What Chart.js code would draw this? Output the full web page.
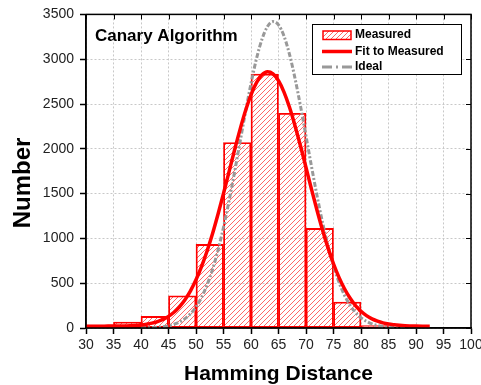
<!DOCTYPE html>
<html>
<head>
<meta charset="utf-8">
<script src="https://cdn.jsdelivr.net/npm/chart.js@4/dist/chart.umd.min.js"></script>
<style>
html,body{margin:0;padding:0;background:#fff;}
canvas{display:block;}
</style>
</head>
<body>
<canvas id="c" width="481" height="385"></canvas>
<script>
// ---- data ----
const binStarts = [30, 35, 40, 45, 50, 55, 60, 65, 70, 75, 80];
const binWidth = 5;
const measuredCounts = [33, 67, 130, 360, 933, 2070, 2835, 2396, 1112, 290, 28];

const fitX = [30,32,34,36,38,40,41,42,43,44,45,46,47,48,49,50,51,52,53,54,55,56,57,58,59,60,61,62,63,64,65,66,67,68,69,70,71,72,73,74,75,76,77,78,79,80,81,82,83,84,85,86,87,88,90,92,92.5];
const fitY = [20,20,21,22,25,34,42,54,72,96,130,176,237,316,415,538,685,857,1052,1270,1501,1742,1984,2214,2424,2602,2738,2826,2860,2837,2760,2633,2463,2258,2031,1791,1549,1314,1094,894,717,565,438,335,251,187,138,102,76,57,44,36,30,26,22,20,20];

const idealX = [40,42,44,45,46,47,48,49,50,51,52,53,54,55,56,57,58,59,60,61,62,63,64,65,66,67,68,69,70,71,72,73,74,75,76,77,78,79,80,82,84,86,88];
const idealY = [1,5,15,25,42,67,105,159,236,341,478,653,868,1124,1416,1737,2074,2411,2728,3006,3223,3365,3420,3383,3258,3054,2787,2477,2142,1803,1478,1180,916,693,510,365,255,173,114,46,17,5,2];

const xTickValues = [30,35,40,45,50,55,60,65,70,75,80,85,90,95,100];
const yTickValues = [0,500,1000,1500,2000,2500,3000,3500];

const seriesNames = ['Measured', 'Fit to Measured', 'Ideal'];
const chartTitle = 'Canary Algorithm';
const xAxisTitle = 'Hamming Distance';
const yAxisTitle = 'Number';

// ---- styles ----
const FONT = '"Liberation Sans", Arial, Helvetica, sans-serif';
const RED = '#ff0000';
const GREY = '#999999';

function makeHatch() {
  const s = 5;
  const c = document.createElement('canvas');
  c.width = s; c.height = s;
  const g = c.getContext('2d');
  g.strokeStyle = RED;
  g.lineWidth = 0.6;
  g.beginPath();
  g.moveTo(0, s); g.lineTo(s, 0);
  g.moveTo(-1, 1); g.lineTo(1, -1);
  g.moveTo(s - 1, s + 1); g.lineTo(s + 1, s - 1);
  g.stroke();
  return document.getElementById('c').getContext('2d').createPattern(c, 'repeat');
}
const hatch = makeHatch();

const decorPlugin = {
  id: 'decor',
  afterDraw(chart) {
    const {ctx, chartArea: a, scales: {x, y}} = chart;
    ctx.save();
    // frame
    ctx.strokeStyle = '#000';
    ctx.lineWidth = 1.5;
    ctx.strokeRect(a.left, a.top, a.right - a.left, a.bottom - a.top);
    // inner ticks on top and right
    ctx.lineWidth = 1;
    ctx.beginPath();
    xTickValues.forEach(v => {
      const px = Math.round(x.getPixelForValue(v)) + 0.5;
      ctx.moveTo(px, a.top); ctx.lineTo(px, a.top + 5);
    });
    yTickValues.forEach(v => {
      const py = Math.round(y.getPixelForValue(v)) + 0.5;
      ctx.moveTo(a.right, py); ctx.lineTo(a.right - 5, py);
    });
    ctx.stroke();

    // in-plot title
    ctx.fillStyle = '#000';
    ctx.font = 'bold 17px ' + FONT;
    ctx.textAlign = 'left';
    ctx.textBaseline = 'alphabetic';
    ctx.fillText(chartTitle, 95, 41);

    // y axis title
    ctx.save();
    ctx.translate(23.4, 183);
    ctx.rotate(-Math.PI / 2);
    ctx.font = 'bold 24px ' + FONT;
    ctx.textAlign = 'center';
    ctx.textBaseline = 'middle';
    ctx.fillText(yAxisTitle, 0, 0);
    ctx.restore();

    // legend
    const lx = 312.5, ly = 24.5, lw = 149, lh = 50;
    ctx.fillStyle = '#fff';
    ctx.fillRect(lx, ly, lw, lh);
    ctx.strokeStyle = '#000';
    ctx.lineWidth = 1;
    ctx.strokeRect(lx, ly, lw, lh);
    const ds = chart.data.datasets;
    const rows = [35, 51.5, 67];
    // Measured swatch
    ctx.fillStyle = hatch;
    ctx.fillRect(323, 31, 28, 8.5);
    ctx.strokeStyle = RED;
    ctx.lineWidth = 1.5;
    ctx.strokeRect(323, 31, 28, 8.5);
    // Fit line
    ctx.beginPath();
    ctx.strokeStyle = ds[1].borderColor;
    ctx.lineWidth = 3.5;
    ctx.moveTo(322, rows[1]); ctx.lineTo(352, rows[1]);
    ctx.stroke();
    // Ideal
    ctx.beginPath();
    ctx.strokeStyle = ds[2].borderColor;
    ctx.lineWidth = 3;
    ctx.setLineDash([10, 4, 2, 4]);
    ctx.moveTo(322, rows[2]); ctx.lineTo(352, rows[2]);
    ctx.stroke();
    ctx.setLineDash([]);
    ctx.fillStyle = '#000';
    ctx.font = 'bold 12px ' + FONT;
    ctx.textAlign = 'left';
    ctx.textBaseline = 'middle';
    [ds[0].label, ds[1].label, ds[2].label].forEach((t, i) => ctx.fillText(t, 355, rows[i]));
    ctx.restore();
  }
};

new Chart(document.getElementById('c'), {
  data: {
    datasets: [
      {
        type: 'bar',
        label: seriesNames[0],
        data: binStarts.map((s, i) => ({x: s + binWidth / 2, y: measuredCounts[i]})),
        backgroundColor: hatch,
        borderColor: RED,
        borderWidth: 1.2,
        borderSkipped: false,
        barPercentage: 1,
        categoryPercentage: 1,
        order: 3
      },
      {
        type: 'line',
        label: seriesNames[1],
        data: fitX.map((v, i) => ({x: v, y: fitY[i]})),
        borderColor: RED,
        borderWidth: 3.5,
        pointRadius: 0,
        fill: false,
        cubicInterpolationMode: 'monotone',
        order: 1
      },
      {
        type: 'line',
        label: seriesNames[2],
        data: idealX.map((v, i) => ({x: v, y: idealY[i]})),
        borderColor: GREY,
        borderWidth: 3,
        borderDash: [5, 2, 2, 2],
        pointRadius: 0,
        fill: false,
        cubicInterpolationMode: 'monotone',
        order: 2
      }
    ]
  },
  options: {
    responsive: false,
    devicePixelRatio: 1,
    animation: false,
    layout: {padding: {left: 0, right: 10, top: 13, bottom: 0}},
    plugins: {legend: {display: false}, tooltip: {enabled: false}},
    scales: {
      x: {
        type: 'linear',
        offset: false,
        min: 30, max: 100,
        afterBuildTicks: s => { s.ticks = xTickValues.map(v => ({value: v})); },
        afterFit: s => { s.height = 57; s.paddingLeft = 0; s.paddingRight = 0; },
        grid: {offset: false, color: '#c8c8c8', lineWidth: 1, tickLength: 6, tickColor: '#000', tickWidth: 1.5},
        border: {color: '#000', width: 1.5, dash: [2, 2]},
        ticks: {color: '#222', font: {family: FONT, size: 14}, padding: 3, maxRotation: 0, autoSkip: false, callback: v => String(v)},
        title: {display: true, text: xAxisTitle, color: '#000', font: {family: FONT, size: 21, weight: 'bold', lineHeight: 1}, padding: {top: 0, bottom: 0.5}}
      },
      y: {
        type: 'linear',
        min: 0, max: 3500,
        afterBuildTicks: s => { s.ticks = yTickValues.map(v => ({value: v})); },
        afterFit: s => { s.width = 86; },
        grid: {color: '#c8c8c8', lineWidth: 1, tickLength: 6, tickColor: '#000', tickWidth: 1.5},
        border: {color: '#000', width: 1.5, dash: [2, 2]},
        ticks: {color: '#222', font: {family: FONT, size: 14}, padding: 6, autoSkip: false, callback: v => String(v)}
      }
    }
  },
  plugins: [decorPlugin]
});
</script>
</body>
</html>
